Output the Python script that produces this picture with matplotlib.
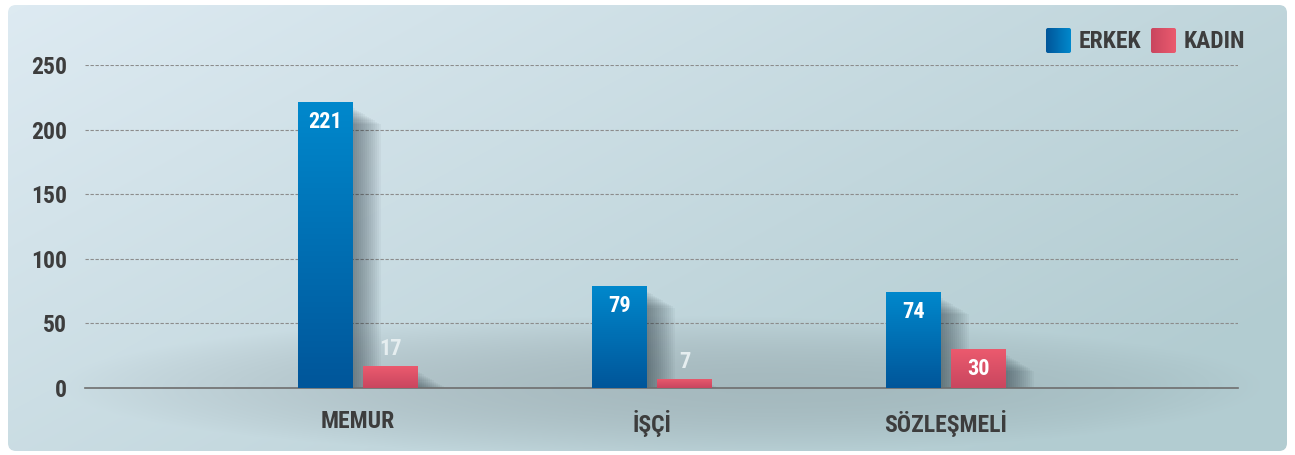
import numpy as np
import matplotlib
matplotlib.use("Agg")
import matplotlib.pyplot as plt
from matplotlib.patches import FancyBboxPatch, Rectangle
from matplotlib.colors import LinearSegmentedColormap

categories = ["MEMUR", "İŞÇİ", "SÖZLEŞMELİ"]
erkek = [221, 79, 74]
kadin = [17, 7, 30]
series_names = ["ERKEK", "KADIN"]
yticks = [0, 50, 100, 150, 200, 250]

plt.rcParams['font.family'] = ["Roboto Condensed", "DejaVu Sans"]
TXT = "#3d3d3d"

W, H = 1295, 455
fig = plt.figure(figsize=(W/100, H/100), dpi=100)
fig.patch.set_facecolor("white")

# background panel
bg = fig.add_axes([0, 0, 1, 1])
bg.set_xlim(0, W); bg.set_ylim(H, 0); bg.axis("off")
yy, xx = np.mgrid[0:H, 0:W]
t = np.clip((xx / W) * 0.7 + (yy / H) * 0.45, 0, 1)
c0 = np.array([0.87, 0.92, 0.95]); c1 = np.array([0.70, 0.80, 0.82])
img = c0[None, None, :] * (1 - t[..., None]) + c1[None, None, :] * t[..., None]
d = ((xx - 660) / 600.0) ** 2 + ((yy - 385) / 70.0) ** 2
shade = np.clip(1 - d, 0, 1) * 0.12
img = img * (1 - shade[..., None])
panel = FancyBboxPatch((8, 5), W - 16, H - 9, boxstyle="round,pad=0,rounding_size=8",
                       transform=bg.transData, facecolor="none", edgecolor="none")
bg.add_patch(panel)
im = bg.imshow(img, extent=(0, W, H, 0), aspect="auto", zorder=0)
im.set_clip_path(panel)

ax = fig.add_axes([85/W, 1 - 388/H, (1238-85)/W, (388-65)/H])
ax.patch.set_alpha(0)
x = np.arange(len(categories))
XL = ((85-358)/294, (1238-358)/294)
ax.set_xlim(*XL)
ax.set_ylim(0, 250)
ax.set_yticks(yticks)
ax.set_yticklabels([str(v) for v in yticks], fontsize=17, fontweight="bold", color=TXT)
ax.set_xticks(x)
ax.set_xticklabels(categories, fontsize=17, fontweight="bold", color=TXT)
ax.tick_params(axis="both", length=0)
ax.tick_params(axis="y", pad=13)
ax.tick_params(axis="x", pad=16)
for s in ["top", "right", "left"]:
    ax.spines[s].set_visible(False)
ax.spines["bottom"].set_color("#6e6e6e")
ax.spines["bottom"].set_linewidth(1.2)
for v in yticks[1:]:
    ax.axhline(v, color="#8c8c8c", lw=0.8, ls=(0, (3, 1.5)), zorder=1)

px = 1/294.0
py = 250/323.0
bw = 55*px
off = 32.5*px
blue_cmap = LinearSegmentedColormap.from_list("b", ["#00569a", "#0088cc"])
red_cmap = LinearSegmentedColormap.from_list("r", ["#c9465f", "#eb5a6e"])
grad = np.linspace(0, 1, 100).reshape(-1, 1)

def draw_bar(xc, h, cmap):
    x0 = xc - bw/2
    for i in range(14):
        sh = Rectangle((x0 + bw*0.4, 0), bw*0.6 + (i+1)*2*px, max(h - (6 + i*1.2)*py, 0),
                       facecolor="#1c2a33", alpha=0.04, edgecolor="none", zorder=2)
        ax.add_patch(sh)
    r = Rectangle((x0, 0), bw, h, facecolor="none", edgecolor="none", zorder=3)
    ax.add_patch(r)
    gi = ax.imshow(grad, extent=(x0, x0 + bw, 0, h), origin="lower", cmap=cmap,
                   aspect="auto", zorder=3)
    gi.set_clip_path(r)

for i in range(len(categories)):
    draw_bar(x[i] - off, erkek[i], blue_cmap)
    draw_bar(x[i] + off, kadin[i], red_cmap)
    ax.annotate(str(erkek[i]), (x[i] - off, erkek[i]), xytext=(0, -9), textcoords="offset pixels",
                ha="center", va="top", fontsize=16, fontweight="bold", color="white", zorder=5)
    if kadin[i] * 323/250 >= 26:
        ax.annotate(str(kadin[i]), (x[i] + off, kadin[i]), xytext=(0, -9), textcoords="offset pixels",
                    ha="center", va="top", fontsize=16, fontweight="bold", color="white", zorder=5)
    else:
        ax.annotate(str(kadin[i]), (x[i] + off, kadin[i]), xytext=(0, 6), textcoords="offset pixels",
                    ha="center", va="bottom", fontsize=16, fontweight="bold", color="#e6eef0", zorder=5)
ax.set_ylim(0, 250)
ax.set_xlim(*XL)

# legend
hgrad = np.linspace(0, 1, 50).reshape(1, -1)
for (lx, name, cmap) in [(1046, series_names[0], blue_cmap), (1151, series_names[1], red_cmap)]:
    rp = FancyBboxPatch((lx, 28), 25, 25, boxstyle="round,pad=0,rounding_size=2",
                        transform=bg.transData, facecolor="none", edgecolor="none")
    bg.add_patch(rp)
    li = bg.imshow(hgrad, extent=(lx, lx + 25, 53, 28), cmap=cmap, aspect="auto", zorder=2)
    li.set_clip_path(rp)
    bg.text(lx + 33, 41, name, ha="left", va="center", fontsize=17, fontweight="bold",
            color=TXT, zorder=3)
bg.set_xlim(0, W); bg.set_ylim(H, 0)

fig.savefig("out.png", dpi=100, facecolor="white")
